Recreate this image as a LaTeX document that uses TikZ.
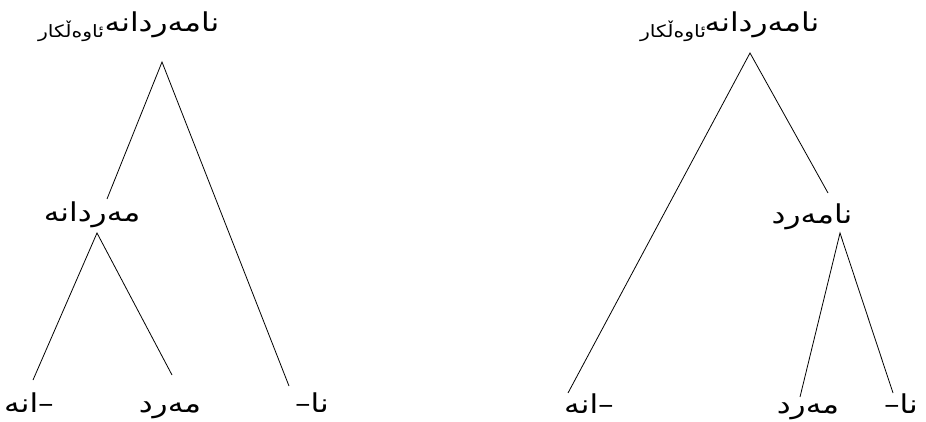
\documentclass[tikz,border=0pt]{standalone}
\usepackage{fontspec}
\newfontfamily\arabicfont[Script=Arabic,FakeStretch=1.2]{DejaVu Sans}
\TeXXeTstate=1
\tikzset{
  lbl/.style={inner sep=0pt, anchor=base, font=\arabicfont\fontsize{26}{30}\selectfont},
  sub/.style={inner sep=0pt, anchor=base, font=\arabicfont\fontsize{17}{20}\selectfont},
  edge/.style={draw=black, line width=0.8pt}
}
\begin{document}
\begin{tikzpicture}[x=1pt,y=-1pt]
\useasboundingbox (0,0) rectangle (926,422);
% left tree
\node[lbl] (lroot) at (162,32) {\beginR نامەردانە\endR};
\node[sub] (lrootsub) at (71,38) {\beginR ئاوەڵکار\endR};
\node[lbl] (lmid) at (92,222) {\beginR مەردانە\endR};
\node[lbl] (lsuf) at (29,412) {{\beginR انە\endR}–};
\node[lbl] (lstem) at (170,412) {\beginR مەرد\endR};
\node[lbl] (lpre) at (312,412) {–{\beginR نا\endR}};
\coordinate (la) at (162,62);
\coordinate (lmidtop) at (107,199);
\coordinate (lmidbot) at (97,233);
\coordinate (lsuftop) at (33,380);
\coordinate (lstemtop) at (172,375);
\coordinate (lpretop) at (289,386);
\draw[edge] (lmidtop) -- (la) -- (lpretop);
\draw[edge] (lsuftop) -- (lmidbot) -- (lstemtop);
% right tree
\node[lbl] (rroot) at (762,32) {\beginR نامەردانە\endR};
\node[sub] (rrootsub) at (673,38) {\beginR ئاوەڵکار\endR};
\node[lbl] (rmid) at (812,223) {\beginR نامەرد\endR};
\node[lbl] (rsuf) at (589,413) {{\beginR انە\endR}–};
\node[lbl] (rstem) at (808,413) {\beginR مەرد\endR};
\node[lbl] (rpre) at (901,413) {–{\beginR نا\endR}};
\coordinate (ra) at (750,53);
\coordinate (rmidtop) at (828,193);
\coordinate (rmidbot) at (840,233);
\coordinate (rsuftop) at (568,393);
\coordinate (rstemtop) at (800,397);
\coordinate (rpretop) at (893,393);
\draw[edge] (rsuftop) -- (ra) -- (rmidtop);
\draw[edge] (rstemtop) -- (rmidbot) -- (rpretop);
\end{tikzpicture}
\end{document}
